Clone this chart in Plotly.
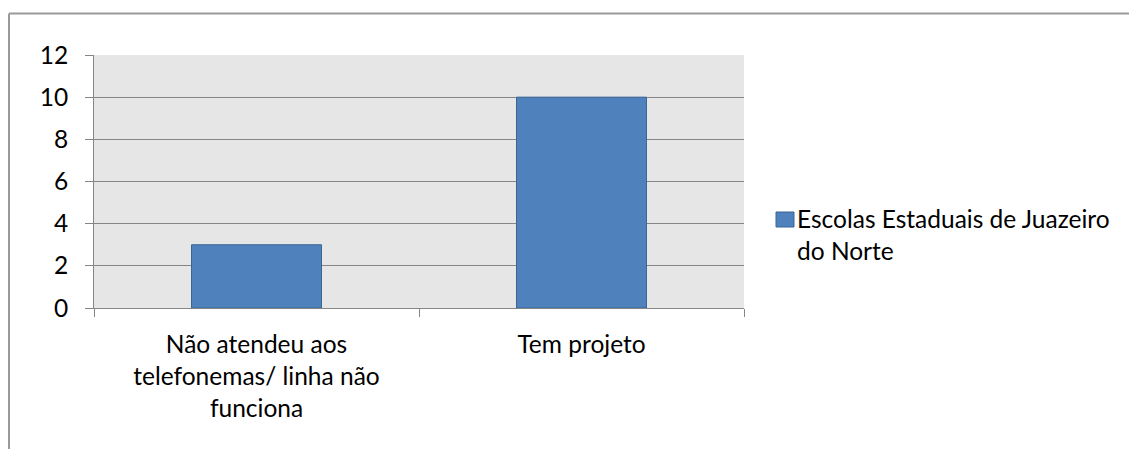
import plotly.graph_objects as go

categories = ["Não atendeu aos<br>telefonemas/ linha não<br>funciona", "Tem projeto"]
values = [3, 10]
series_name = "Escolas Estaduais de Juazeiro<br>do Norte"
y_ticks = [0, 2, 4, 6, 8, 10, 12]

W, H = 1129, 449
L, R, T, B = 94, 385, 55, 141
pw, ph = W - L - R, H - T - B

def px_x(p):
    return (p - L) / pw

def px_y(p):
    return (H - B - p) / ph

BAR_COLOR = "#4F81BD"
BAR_LINE = "#3A6595"

fig = go.Figure()
fig.add_trace(go.Bar(
    x=categories, y=values, name=series_name.replace("<br>", " "), width=0.4,
    marker=dict(color=BAR_COLOR, line=dict(color=BAR_LINE, width=1)),
    showlegend=False,
))

font = dict(family="Lato, Calibri, sans-serif", size=24.5, color="#000000")

fig.update_layout(
    width=W, height=H,
    margin=dict(l=L, r=R, t=T, b=B, pad=0),
    paper_bgcolor="white", plot_bgcolor="#E6E6E6",
    font=font,
    showlegend=False,
    bargap=0.6,
)
fig.update_xaxes(
    type="category", showline=True, linecolor="#868686", linewidth=1,
    ticks="outside", ticklen=8, tickcolor="#868686", tickson="boundaries",
    ticklabelstandoff=15,
    showgrid=False, tickfont=font, mirror=False,
)
fig.update_yaxes(
    range=[0, 12], tickvals=y_ticks, showline=True, linecolor="#868686", linewidth=1,
    ticks="outside", ticklen=8, tickcolor="#868686", ticklabelstandoff=12,
    showgrid=True, gridcolor="#868686", gridwidth=1, zeroline=False, tickfont=font,
)

# legend (manual, to match the larger symbol)
fig.add_shape(type="rect", xref="paper", yref="paper",
              x0=px_x(776), x1=px_x(794), y0=px_y(212), y1=px_y(227),
              fillcolor=BAR_COLOR, line=dict(color=BAR_LINE, width=1))
fig.add_annotation(xref="paper", yref="paper", x=px_x(796), y=px_y(203),
                   xanchor="left", yanchor="top", align="left", showarrow=False,
                   text=series_name, font=font, borderpad=0)

# outer chart border (top and left visible)
fig.add_shape(type="line", xref="paper", yref="paper",
              x0=px_x(9), x1=px_x(1135), y0=px_y(13.5), y1=px_y(13.5),
              line=dict(color="#9A9A9A", width=2))
fig.add_shape(type="line", xref="paper", yref="paper",
              x0=px_x(9), x1=px_x(9), y0=px_y(13.5), y1=px_y(455),
              line=dict(color="#9A9A9A", width=2))

fig.write_html("out.html")
